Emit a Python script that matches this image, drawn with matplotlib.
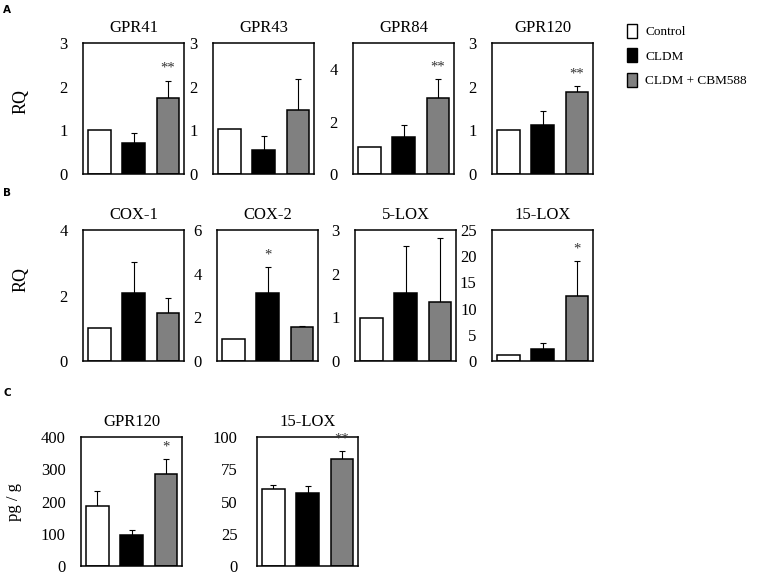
import matplotlib
matplotlib.use("Agg")
import matplotlib.pyplot as plt
from matplotlib.patches import Patch

plt.rcParams['font.family'] = ['Liberation Serif', 'TeX Gyre Termes', 'STIXGeneral', 'DejaVu Serif']

groups = ["Control", "CLDM", "CLDM + CBM588"]
colors = ["white", "black", "#808080"]

# Panel A
a_titles = ["GPR41", "GPR43", "GPR84", "GPR120"]
a_means = [[1.0, 0.72, 1.73], [1.02, 0.56, 1.47], [1.03, 1.42, 2.90], [1.01, 1.13, 1.87]]
a_err = [[0.0, 0.22, 0.41], [0.0, 0.30, 0.71], [0.0, 0.44, 0.73], [0.0, 0.32, 0.14]]
a_sig = [["", "", "**"], ["", "", ""], ["", "", "**"], ["", "", "**"]]
a_ylim = [3, 3, 5, 3]
a_ticks = [[0, 1, 2, 3], [0, 1, 2, 3], [0, 2, 4], [0, 1, 2, 3]]

# Panel B
b_titles = ["COX-1", "COX-2", "5-LOX", "15-LOX"]
b_means = [[1.0, 2.07, 1.46], [1.0, 3.1, 1.57], [0.99, 1.56, 1.35], [1.1, 2.2, 12.5]]
b_err = [[0.0, 0.94, 0.45], [0.0, 1.19, 0.05], [0.0, 1.07, 1.46], [0.0, 1.2, 6.6]]
b_sig = [["", "", ""], ["", "*", ""], ["", "", ""], ["", "", "*"]]
b_ylim = [4, 6, 3, 25]
b_ticks = [[0, 2, 4], [0, 2, 4, 6], [0, 1, 2, 3], [0, 5, 10, 15, 20, 25]]

# Panel C
c_titles = ["GPR120", "15-LOX"]
c_means = [[186, 96, 285], [60, 56.5, 83]]
c_err = [[48, 16, 48], [2.5, 5.5, 6]]
c_sig = [["", "", "*"], ["", "", "**"]]
c_ylim = [400, 100]
c_ticks = [[0, 100, 200, 300, 400], [0, 25, 50, 75, 100]]

W, H = 758, 575
fig = plt.figure(figsize=(W / 100, H / 100), dpi=100)


def make_ax(x0, top, bottom, width=101):
    return fig.add_axes([x0 / W, 1 - bottom / H, width / W, (bottom - top) / H])


def draw(ax, title, means, errs, sigs, ylim, ticks, fs=12, tpad=11):
    x = list(range(len(means)))
    ax.bar(x, means, width=0.66, color=colors, edgecolor="black", linewidth=1.1, zorder=2)
    for xi, m, e, s in zip(x, means, errs, sigs):
        if e > 0:
            ax.errorbar(xi, m, yerr=[[0], [e]], fmt="none", ecolor="black",
                        elinewidth=0.8, capsize=2.5, capthick=0.8, zorder=1)
        if s:
            ax.annotate(s, (xi, m + e), xytext=(0, 4), textcoords="offset points",
                        ha="center", va="bottom", fontsize=10.5, color="#333333")
    ax.set_xlim(-0.48, 2.47)
    ax.set_ylim(0, ylim)
    ax.set_yticks(ticks)
    ax.set_xticks([])
    ax.tick_params(axis="y", length=0, pad=tpad, labelsize=fs)
    for sp in ax.spines.values():
        sp.set_linewidth(1.1)
    ax.set_title(title, fontsize=fs, pad=8)


a_x = [83, 213, 353, 492]
for i in range(4):
    ax = make_ax(a_x[i], 43, 174)
    draw(ax, a_titles[i], a_means[i], a_err[i], a_sig[i], a_ylim[i], a_ticks[i])

b_x = [83, 217, 355, 492]
for i in range(4):
    ax = make_ax(b_x[i], 230, 361)
    draw(ax, b_titles[i], b_means[i], b_err[i], b_sig[i], b_ylim[i], b_ticks[i])

c_x = [81, 257]
c_pad = [11, 14]
for i in range(2):
    ax = make_ax(c_x[i], 437, 566)
    draw(ax, c_titles[i], c_means[i], c_err[i], c_sig[i], c_ylim[i], c_ticks[i], tpad=c_pad[i])

# Panel letters
for lab, y in [("A", 10), ("B", 193), ("C", 393)]:
    fig.text(3 / W, 1 - y / H, lab, family="DejaVu Sans", fontweight="bold",
             fontsize=7.5, ha="left", va="center")

# y labels
fig.text(21 / W, 1 - 101 / H, "RQ", rotation=90, fontsize=13, ha="center", va="center")
fig.text(21 / W, 1 - 279 / H, "RQ", rotation=90, fontsize=13, ha="center", va="center")
fig.text(14 / W, 1 - 502 / H, "pg / g", rotation=90, fontsize=12, ha="center", va="center")

# Legend
handles = [Patch(facecolor=c, edgecolor="black", linewidth=1.0) for c in colors]
fig.legend(handles, groups, loc="upper left", bbox_to_anchor=(616 / W, 1 - 13 / H),
           frameon=False, fontsize=9.5, handlelength=0.8, handleheight=1.3,
           handletextpad=0.6, labelspacing=0.75, borderpad=0.3)

fig.savefig("out.png", dpi=100)
